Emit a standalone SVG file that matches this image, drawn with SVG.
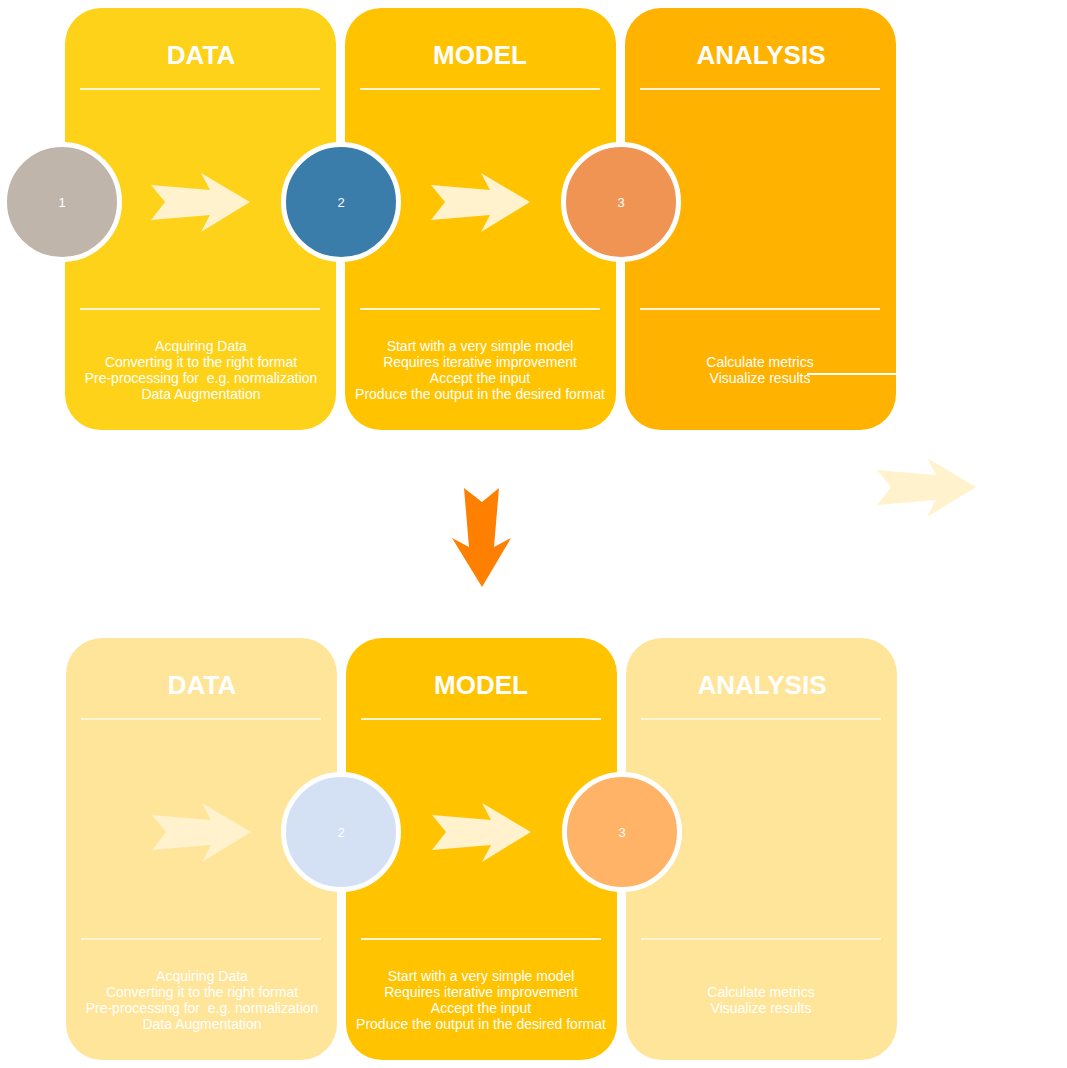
<svg xmlns="http://www.w3.org/2000/svg" width="1067" height="1068" viewBox="0 0 1067 1068">
<style>
.title{font-family:"Liberation Sans",Arial,sans-serif;font-size:26px;font-weight:bold;fill:#fff;text-anchor:middle}
.body{font-family:"Liberation Sans",Arial,sans-serif;font-size:14px;fill:#fff;text-anchor:middle;white-space:pre}
.num{font-family:"Liberation Sans",Arial,sans-serif;font-size:13px;fill:#fff;text-anchor:middle}
.sep{stroke:#FFF4D4;stroke-width:2}
.ring{stroke:#fff;stroke-width:5}
.chev{fill:#FFF2CC}
</style>
<defs>
<polygon id="chev" points="0,12 14,29 0,47 59,42 50,59 99,29 50,0 59,17"/>
</defs>
<rect width="1067" height="1068" fill="#fff"/>

<g id="data-top">
<rect x="65" y="8" width="271" height="422" rx="36" fill="#FDD219"/>
<text class="title" x="201" y="64">DATA</text>
<line class="sep" x1="80" y1="89" x2="320" y2="89"/>
<line class="sep" x1="80" y1="309" x2="320" y2="309"/>
<text class="body" xml:space="preserve"><tspan x="201" y="351">Acquiring Data</tspan><tspan x="201" y="367">Converting it to the right format</tspan><tspan x="201" y="383">Pre-processing for  e.g. normalization</tspan><tspan x="201" y="399">Data Augmentation</tspan></text>
</g>
<g id="model-top">
<rect x="345" y="8" width="271" height="422" rx="36" fill="#FFC300"/>
<text class="title" x="480" y="64">MODEL</text>
<line class="sep" x1="360" y1="89" x2="600" y2="89"/>
<line class="sep" x1="360" y1="309" x2="600" y2="309"/>
<text class="body"><tspan x="480" y="351">Start with a very simple model</tspan><tspan x="480" y="367">Requires iterative improvement</tspan><tspan x="480" y="383">Accept the input</tspan><tspan x="480" y="399">Produce the output in the desired format</tspan></text>
</g>
<g id="analysis-top">
<rect x="625" y="8" width="271" height="422" rx="36" fill="#FFB300"/>
<text class="title" x="761" y="64">ANALYSIS</text>
<line class="sep" x1="640" y1="89" x2="880" y2="89"/>
<line class="sep" x1="640" y1="309" x2="880" y2="309"/>
<text class="body"><tspan x="760" y="367">Calculate metrics</tspan><tspan x="760" y="383">Visualize results</tspan></text>
</g>

<g id="data-bottom">
<rect x="66" y="638" width="271" height="422" rx="36" fill="#FFE599"/>
<text class="title" x="202" y="694">DATA</text>
<line class="sep" x1="81" y1="719" x2="321" y2="719"/>
<line class="sep" x1="81" y1="939" x2="321" y2="939"/>
<text class="body" xml:space="preserve"><tspan x="202" y="981">Acquiring Data</tspan><tspan x="202" y="997">Converting it to the right format</tspan><tspan x="202" y="1013">Pre-processing for  e.g. normalization</tspan><tspan x="202" y="1029">Data Augmentation</tspan></text>
</g>
<g id="model-bottom">
<rect x="346" y="638" width="271" height="422" rx="36" fill="#FFC300"/>
<text class="title" x="481" y="694">MODEL</text>
<line class="sep" x1="361" y1="719" x2="601" y2="719"/>
<line class="sep" x1="361" y1="939" x2="601" y2="939"/>
<text class="body"><tspan x="481" y="981">Start with a very simple model</tspan><tspan x="481" y="997">Requires iterative improvement</tspan><tspan x="481" y="1013">Accept the input</tspan><tspan x="481" y="1029">Produce the output in the desired format</tspan></text>
</g>
<g id="analysis-bottom">
<rect x="626" y="638" width="271" height="422" rx="36" fill="#FFE599"/>
<text class="title" x="762" y="694">ANALYSIS</text>
<line class="sep" x1="641" y1="719" x2="881" y2="719"/>
<line class="sep" x1="641" y1="939" x2="881" y2="939"/>
<text class="body"><tspan x="761" y="997">Calculate metrics</tspan><tspan x="761" y="1013">Visualize results</tspan></text>
</g>

<g id="connectors">
<line x1="807" y1="374" x2="896" y2="374" stroke="#fff" stroke-width="2"/>
<use href="#chev" class="chev" x="151" y="173"/>
<use href="#chev" class="chev" x="431" y="173"/>
<use href="#chev" class="chev" x="152" y="803"/>
<use href="#chev" class="chev" x="432" y="803"/>
<use href="#chev" class="chev" x="877" y="458"/>
<polygon points="464,488 482,502 499,488 494,547 511,538 482,587 452,538 469,547" fill="#FF8000"/>
</g>

<g id="circle-1">
<circle class="ring" cx="62" cy="202" r="57.5" fill="#BFB5AA"/>
<text class="num" x="62" y="207">1</text>
</g>
<g id="circle-2">
<circle class="ring" cx="341" cy="202" r="57.5" fill="#3A7DAA"/>
<text class="num" x="341" y="207">2</text>
</g>
<g id="circle-3">
<circle class="ring" cx="621" cy="202" r="57.5" fill="#EF9452"/>
<text class="num" x="621" y="207">3</text>
</g>
<g id="circle-2b">
<circle class="ring" cx="341" cy="832" r="57.5" fill="#D4E1F4"/>
<text class="num" x="341" y="837">2</text>
</g>
<g id="circle-3b">
<circle class="ring" cx="622" cy="832" r="57.5" fill="#FFB366"/>
<text class="num" x="622" y="837">3</text>
</g>
</svg>
